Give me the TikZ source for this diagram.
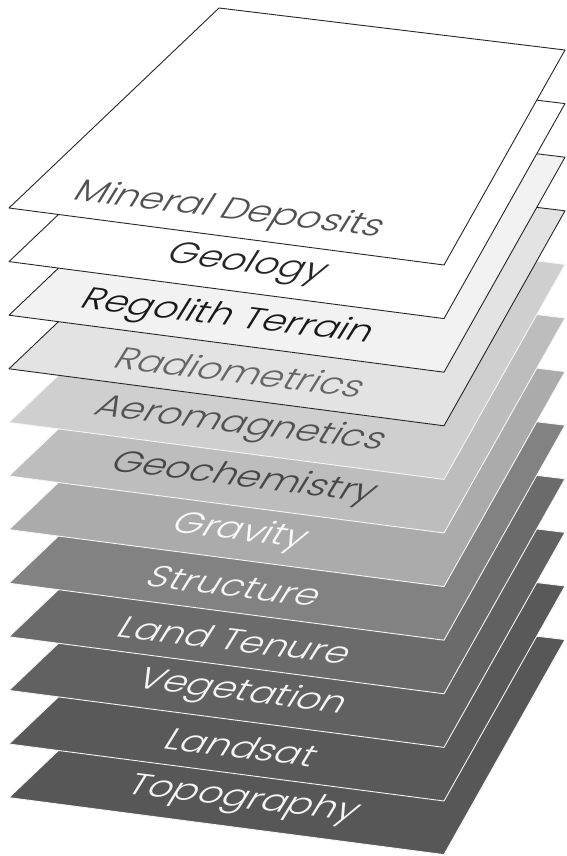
\documentclass[tikz,border=0pt]{standalone}
\usepackage{fontspec}
\setmainfont{Poppins Light}
\begin{document}
\begin{tikzpicture}[x=1pt,y=-1pt, line join=round, line cap=round,
    sheet/.style={fill=#1},
    sheetlabel/.style={text=#1, inner sep=0pt, font=\fontsize{38}{38}\selectfont,
      cm={0.993,-0.122,0.47,0.76,(0,0)}}]
  \useasboundingbox (0,0) rectangle (566,856);
  % layers drawn from the bottom of the stack up
  \foreach \k/\fillc/\edgec/\textc/\cx/\name in {
      11/black!66/black!4/black!4/243/Topography,
      10/black!65/black!4/black!4/242/Landsat,
      9/black!62/black!4/black!4/242/Vegetation,
      8/black!58/black!4/black!4/236/Land Tenure,
      7/black!49/black!4/black!4/235/Structure,
      6/black!33/black!4/black!2/240/Gravity,
      5/black!26/black!4/black!72/244/Geochemistry,
      4/black!19/black!4/black!68/240/Aeromagnetics,
      3/black!11/black!85/black!60/241/Radiometrics,
      2/black!5/black!85/black!90/227/Regolith Terrain,
      1/white/black!85/black!85/247/Geology,
      0/white/black!85/black!68/229/Mineral Deposits}
  {
    \begin{scope}[shift={(0,53.6*\k)}]
      \draw[sheet=\fillc, draw=\edgec, line width=0.9pt]
        (219,8) -- (565,50) -- (444,265) -- (9,208) -- cycle;
      \node[sheetlabel=\textc] (lbl\k) at (\cx,211) {\name};
    \end{scope}
  }
\end{tikzpicture}
\end{document}
